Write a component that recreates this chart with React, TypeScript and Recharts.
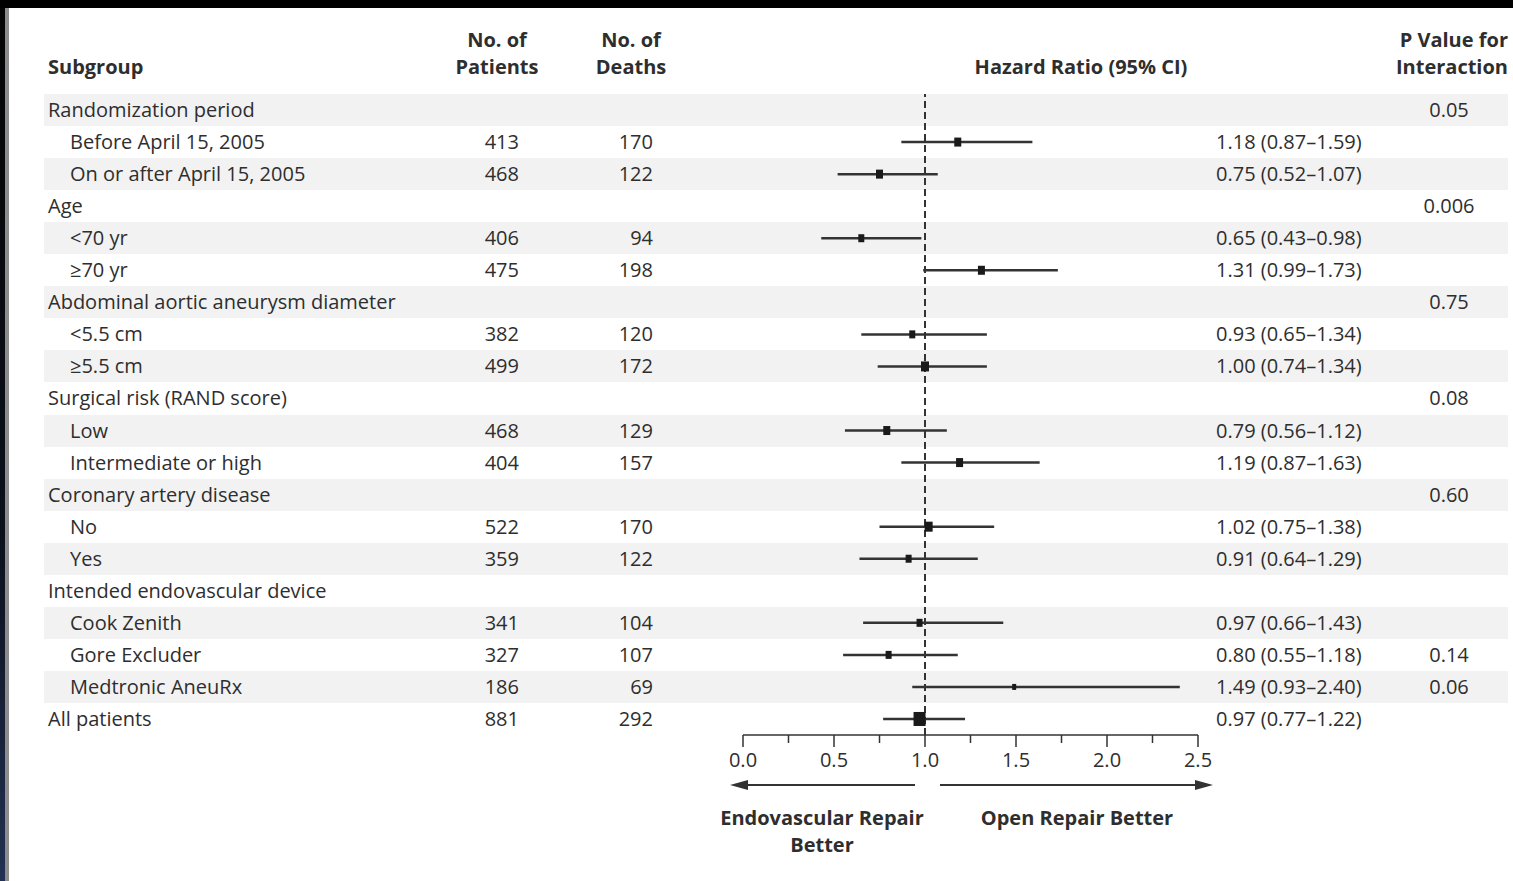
import React from 'react';
import { ScatterChart, Scatter, XAxis, YAxis, ReferenceLine, ErrorBar } from 'recharts';

// ---------- data ----------
const subgroupLabels = [
  'Randomization period',
  'Before April 15, 2005',
  'On or after April 15, 2005',
  'Age',
  '<70 yr',
  '\u226570 yr',
  'Abdominal aortic aneurysm diameter',
  '<5.5 cm',
  '\u22655.5 cm',
  'Surgical risk (RAND score)',
  'Low',
  'Intermediate or high',
  'Coronary artery disease',
  'No',
  'Yes',
  'Intended endovascular device',
  'Cook Zenith',
  'Gore Excluder',
  'Medtronic AneuRx',
  'All patients',
];
const isIndented = [0, 1, 1, 0, 1, 1, 0, 1, 1, 0, 1, 1, 0, 1, 1, 0, 1, 1, 1, 0];
const patients = [null, 413, 468, null, 406, 475, null, 382, 499, null, 468, 404, null, 522, 359, null, 341, 327, 186, 881];
const deaths = [null, 170, 122, null, 94, 198, null, 120, 172, null, 129, 157, null, 170, 122, null, 104, 107, 69, 292];
const hazardRatio = [null, 1.18, 0.75, null, 0.65, 1.31, null, 0.93, 1.0, null, 0.79, 1.19, null, 1.02, 0.91, null, 0.97, 0.8, 1.49, 0.97];
const ciLower = [null, 0.87, 0.52, null, 0.43, 0.99, null, 0.65, 0.74, null, 0.56, 0.87, null, 0.75, 0.64, null, 0.66, 0.55, 0.93, 0.77];
const ciUpper = [null, 1.59, 1.07, null, 0.98, 1.73, null, 1.34, 1.34, null, 1.12, 1.63, null, 1.38, 1.29, null, 1.43, 1.18, 2.4, 1.22];
const pInteraction = ['0.05', '', '', '0.006', '', '', '0.75', '', '', '0.08', '', '', '0.60', '', '', '', '', '0.14', '0.06', ''];
const xTicks = [0, 0.25, 0.5, 0.75, 1, 1.25, 1.5, 1.75, 2, 2.25, 2.5];

// ---------- styling ----------
const MARKER_W = [0, 7, 7, 0, 6, 7, 0, 6, 8, 0, 7, 7, 0, 8, 6, 0, 6, 6, 4, 12];
const FONT = '"Open Sans", Lato, sans-serif';
const TEXT = '#2e2e2e';
const FS = 20;
const W = 1513;
const H = 881;
const MARGIN = { top: 94, right: 315, bottom: 116, left: 742 };
const X_AXIS_H = 30;
const Y_AXIS_W = 1;
const N = subgroupLabels.length;
const ROW_H = (H - MARGIN.top - MARGIN.bottom - X_AXIS_H) / N;

const rowIds = subgroupLabels.map((_, i) => i + 1);
const points = subgroupLabels
  .map((_, i) => ({
    row: i + 1,
    hr: hazardRatio[i],
    err: hazardRatio[i] == null ? null : [hazardRatio[i]! - ciLower[i]!, ciUpper[i]! - hazardRatio[i]!],
    w: MARKER_W[i],
  }))
  .filter((p) => p.hr != null);

const fmt = (v: number) => v.toFixed(2);

const RowTick = (props: any) => {
  const { y, payload } = props;
  const i = Math.round(payload.value) - 1;
  if (i < 0 || i >= N) return null;
  const base = y + 7;
  return (
    <g fontFamily={FONT} fontSize={FS} fill={TEXT}>
      <text x={isIndented[i] ? 70 : 48} y={base} fill={TEXT}>
        {subgroupLabels[i]}
      </text>
      {patients[i] != null && (
        <text x={519} y={base} textAnchor="end" fill={TEXT}>
          {patients[i]}
        </text>
      )}
      {deaths[i] != null && (
        <text x={653} y={base} textAnchor="end" fill={TEXT}>
          {deaths[i]}
        </text>
      )}
      {hazardRatio[i] != null && (
        <text x={1216} y={base} fill={TEXT}>
          {`${fmt(hazardRatio[i]!)} (${fmt(ciLower[i]!)}\u2013${fmt(ciUpper[i]!)})`}
        </text>
      )}
      {pInteraction[i] && (
        <text x={1449} y={base} textAnchor="middle" fill={TEXT}>
          {pInteraction[i]}
        </text>
      )}
    </g>
  );
};

const AxisTick = (props: any) => {
  const { x, y, payload } = props;
  const v = payload.value as number;
  const major = Math.abs(v * 2 - Math.round(v * 2)) < 1e-6;
  return (
    <g>
      <line x1={x} x2={x} y1={y} y2={y + (major ? 12 : 8)} stroke="#333" strokeWidth={1.5} />
      {major && (
        <text x={x} y={y + 32} textAnchor="middle" fontFamily={FONT} fontSize={FS} fill={TEXT}>
          {v.toFixed(1)}
        </text>
      )}
    </g>
  );
};

const Marker = (props: any) => {
  const { cx, cy, payload } = props;
  if (cx == null || cy == null) return null;
  const w = payload.w;
  const h = w + 2;
  return <rect x={cx - w / 2} y={cy - h / 2} width={w} height={h} fill="#1a1a1a" />;
};

// row stripes, laid out behind the chart on the same row grid the Y axis uses
const Stripes = () => (
  <div style={{ position: 'absolute', left: 0, top: 0, width: W, height: H }}>
    {rowIds
      .filter((r) => r % 2 === 1)
      .map((r) => (
        <div
          key={r}
          style={{
            position: 'absolute',
            left: 44,
            width: 1464,
            top: MARGIN.top + (r - 1) * ROW_H,
            height: ROW_H,
            background: '#f2f2f2',
          }}
        />
      ))}
  </div>
);

const Overlay = () => (
  <svg
    width={W}
    height={H}
    style={{ position: 'absolute', left: 0, top: 0, pointerEvents: 'none' }}
    fontFamily={FONT}
    fontSize={FS}
  >
    <defs>
      <linearGradient id="edge" x1="0" y1="0" x2="0" y2="1">
        <stop offset="0" stopColor="#050505" />
        <stop offset="0.6" stopColor="#0b101b" />
        <stop offset="1" stopColor="#223152" />
      </linearGradient>
    </defs>
    <rect x={0} y={0} width={W} height={8} fill="#000" />
    <rect x={0} y={8} width={5} height={H - 8} fill="url(#edge)" />
    <rect x={5} y={8} width={4} height={H - 8} fill="#8c8c8c" />
    {/* headers */}
    <g fontWeight={700} fill={TEXT}>
      <text x={48} y={74}>Subgroup</text>
      <text x={497} y={47} textAnchor="middle">No. of</text>
      <text x={497} y={74} textAnchor="middle">Patients</text>
      <text x={631} y={47} textAnchor="middle">No. of</text>
      <text x={631} y={74} textAnchor="middle">Deaths</text>
      <text x={1081} y={74} textAnchor="middle">Hazard Ratio (95% CI)</text>
      <text x={1508} y={47} textAnchor="end">P Value for</text>
      <text x={1508} y={74} textAnchor="end">Interaction</text>
    </g>
    {/* direction arrows */}
    <line x1={744} y1={785} x2={915} y2={785} stroke="#333" strokeWidth={2} />
    <polygon points="730,785 748,780 748,790" fill="#333" />
    <line x1={940} y1={785} x2={1199} y2={785} stroke="#333" strokeWidth={2} />
    <polygon points="1213,785 1195,780 1195,790" fill="#333" />
    <g fontWeight={700} fill={TEXT} textAnchor="middle">
      <text x={822} y={825}>Endovascular Repair</text>
      <text x={822} y={852}>Better</text>
      <text x={1077} y={825}>Open Repair Better</text>
    </g>
  </svg>
);

export default function App() {
  return (
    <div style={{ position: 'absolute', left: 0, top: 0, width: W, height: H, background: '#fff' }}>
      <Stripes />
      <div style={{ position: 'absolute', left: 0, top: 0 }}>
        <ScatterChart width={W} height={H} margin={MARGIN}>
          <YAxis
            type="number"
            dataKey="row"
            domain={[0.5, N + 0.5]}
            reversed
            ticks={rowIds}
            interval={0}
            width={Y_AXIS_W}
            axisLine={false}
            tickLine={false}
            tick={<RowTick />}
          />
          <XAxis
            type="number"
            dataKey="hr"
            domain={[0, 2.5]}
            allowDataOverflow
            ticks={xTicks}
            interval={0}
            height={X_AXIS_H}
            tickSize={0}
            tickMargin={0}
            tickLine={false}
            axisLine={{ stroke: '#333', strokeWidth: 1.5 }}
            tick={<AxisTick />}
          />
          <ReferenceLine x={1} stroke="#333" strokeWidth={2} strokeDasharray="7 4" />
          <Scatter data={points} shape={<Marker />} isAnimationActive={false}>
            <ErrorBar dataKey="err" direction="x" width={0} stroke="#333" strokeWidth={2.5} isAnimationActive={false} />
          </Scatter>
        </ScatterChart>
      </div>
      <Overlay />
    </div>
  );
}
